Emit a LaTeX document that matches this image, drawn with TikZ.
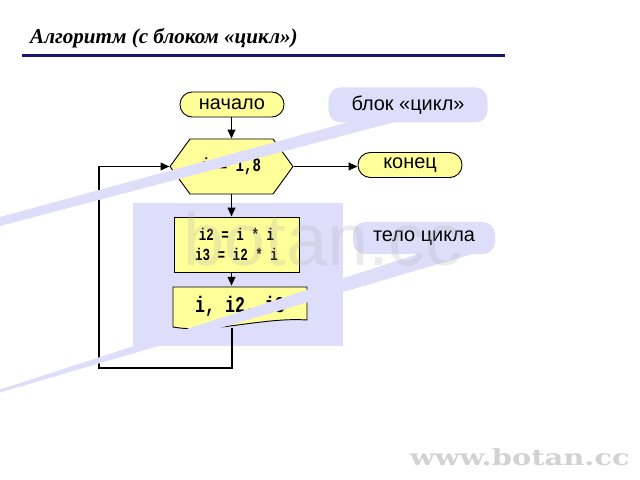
\documentclass[tikz,border=0pt]{standalone}
\usepackage{fontspec}
\usepackage{graphicx}
\setmainfont{Liberation Sans}
\newfontfamily\titlefont{Liberation Serif}
\newfontfamily\codefont{Liberation Mono}
\newfontfamily\sitefont{DejaVu Serif}
\usetikzlibrary{shapes.symbols,arrows.meta}
\definecolor{blockyellow}{RGB}{255,255,153}
\definecolor{notelilac}{RGB}{222,222,251}
\definecolor{rulenavy}{RGB}{24,24,112}
\newcommand{\labelfont}{\fontsize{17}{20}\selectfont}
\newcommand{\tallcode}[1]{\scalebox{1}[1.35]{#1}}

\begin{document}
\begin{tikzpicture}[
      x=0.03cm, y=-0.03cm,
      every node/.style={inner sep=0pt},
      term/.style={draw, line width=0.8pt, fill=blockyellow, rounded corners=0.37cm,
        minimum width=3.12cm, minimum height=0.75cm, font=\labelfont},
      loopblock/.style={signal, signal to=west and east, signal pointer angle=108,
        draw, line width=0.8pt, fill=blockyellow,
        minimum width=3.69cm, minimum height=1.65cm},
      action/.style={draw, line width=0.8pt, fill=blockyellow,
        minimum width=3.75cm, minimum height=1.65cm, align=center},
      note/.style={fill=notelilac, rounded corners=0.36cm, font=\labelfont},
      flow/.style={line width=1.2pt, -{Triangle[length=7.5pt,width=6.5pt]}}
    ]
      \useasboundingbox (0,0) rectangle (640,480);
      % title and rule
      \node[anchor=base west, font=\fontsize{18}{22}\titlefont\bfseries\itshape]
        (title) at (30,44) {Алгоритм (с блоком «цикл»)};
      \draw[rulenavy, line width=2.4pt] (22,55.5) -- (505,55.5);
      % watermark panel
      \fill[notelilac] (133,203) rectangle (343,346);
      % blocks
      \node[term] (start) at (232,104.5) {начало};
      \node[loopblock] (loop) at (231.5,166.5)
        {\fontsize{12}{14}\codefont\bfseries\tallcode{i = 1,8}};
      \node[term] (stop) at (410,165) {конец};
      \node[action, font=\fontsize{10.7}{17}\codefont\bfseries] (body) at (236.5,244.5)
        {\tallcode{i2 = i * i}\\\tallcode{i3 = i2 * i}};
      \draw[line width=0.8pt, fill=blockyellow] (173,287) -- (307,287) -- (307,320)
        .. controls (262,317) and (212,334) .. (173,327) -- cycle;
      \node[minimum width=4.02cm, minimum height=1.2cm] (out) at (240,306)
        {\fontsize{14.2}{16}\codefont\bfseries\tallcode{i, i2, i3}};
      \coordinate (outfoot) at (232,327.5);
      \coordinate (bend) at (99,368);
      % connectors
      \draw[flow] (start.south -| loop.north) -- (loop.north);
      \draw[flow] (loop.east) -- (loop.east -| stop.west);
      \draw[flow] (loop.south) -- (loop.south |- body.north);
      \draw[flow] (loop.south |- body.south) -- (loop.south |- out.north);
      \draw[flow] (outfoot) |- (bend) |- (loop.west);
      % callouts
      \fill[notelilac] (349,122) -- (395,122) -- (0,226) -- (0,217) -- cycle;
      \node[note, minimum width=4.77cm, minimum height=1.05cm] (cyclenote) at (408,105)
        {блок «цикл»};
      \fill[notelilac] (421,253) -- (476,253) -- (0,392.5) -- (0,389.5) -- cycle;
      \node[note, minimum width=4.26cm, minimum height=0.96cm] (bodynote) at (424,238)
        {тело цикла};
      % watermarks
      \node[anchor=base, opacity=0.25, text=gray!60, font=\fontsize{63}{70}\selectfont]
        (mark) at (323,265) {botan.cc};
      \node[anchor=base east, text=gray!35, font=\fontsize{19}{22}\sitefont\bfseries]
        (site) at (630,465) {\scalebox{1.3}[1]{www.botan.cc}};
    \end{tikzpicture}
\end{document}
